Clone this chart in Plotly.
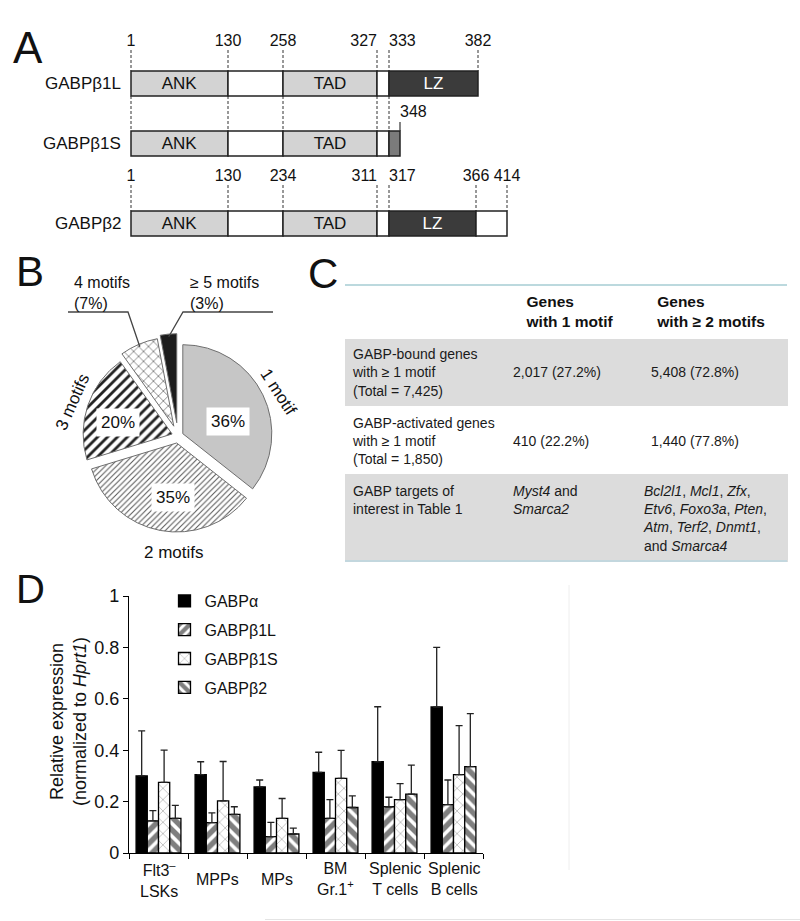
import math
import plotly.graph_objects as go

W, H = 800, 921
FONT = "Liberation Sans, Arial, Helvetica, sans-serif"


def fx(x):
    return x / W


def fy(y):
    return 1 - y / H


# ======================= DATA =======================
# Panel A: domain boundaries (amino-acid numbers) and domain names
proteins = ["GABPβ1L", "GABPβ1S", "GABPβ2"]
b1l_aa = [1, 130, 258, 327, 333, 382]
b1s_aa = [1, 130, 258, 327, 333, 348]
b2_aa = [1, 130, 234, 311, 317, 366, 414]
b1l_domains = ["ANK", "", "TAD", "", "LZ"]
b1s_domains = ["ANK", "", "TAD", "", "LZt"]
b2_domains = ["ANK", "", "TAD", "", "LZ", ""]

# Panel B: motif counts per GABP-bound gene (%)
motif_labels = ["1 motif", "2 motifs", "3 motifs", "4 motifs", "≥ 5 motifs"]
motif_pct = [36, 35, 20, 7, 3]

# Panel C: table
gene_sets = ["GABP-bound genes", "GABP-activated genes"]
set_totals = [7425, 1850]
one_motif_counts = [2017, 410]
multi_motif_counts = [5408, 1440]
targets_one = ["Myst4", "Smarca2"]
targets_multi = ["Bcl2l1", "Mcl1", "Zfx", "Etv6", "Foxo3a", "Pten",
                 "Atm", "Terf2", "Dnmt1", "Smarca4"]

# Panel D: relative expression (normalized to Hprt1)
cell_types = ["Flt3<sup>–</sup><br>LSKs", "MPPs", "MPs", "BM<br>Gr.1<sup>+</sup>",
              "Splenic<br>T cells", "Splenic<br>B cells"]
series_names = ["GABPα", "GABPβ1L", "GABPβ1S", "GABPβ2"]
gabpa_mean = [0.300, 0.305, 0.257, 0.314, 0.355, 0.568]
gabpa_sd = [0.175, 0.050, 0.027, 0.078, 0.214, 0.232]
gabpb1l_mean = [0.125, 0.118, 0.064, 0.135, 0.180, 0.188]
gabpb1l_sd = [0.040, 0.038, 0.055, 0.073, 0.037, 0.096]
gabpb1s_mean = [0.275, 0.203, 0.135, 0.290, 0.208, 0.305]
gabpb1s_sd = [0.125, 0.153, 0.077, 0.109, 0.062, 0.191]
gabpb2_mean = [0.135, 0.150, 0.074, 0.177, 0.229, 0.336]
gabpb2_sd = [0.050, 0.030, 0.023, 0.045, 0.113, 0.206]
y_ticks = [0, 0.2, 0.4, 0.6, 0.8, 1]

# ======================= LAYOUT / STYLE =======================
# schematic (not-to-scale) x positions of the boundaries in panel A
SCHEM_X = {"GABPβ1L": [131, 228, 283, 377, 389, 478],
           "GABPβ1S": [131, 228, 283, 377, 389, 400],
           "GABPβ2": [131, 228, 283, 377, 389, 476, 507]}
ROW_Y = [83.5, 143.5, 223.5]
NUM_Y = [42, 113, 177]
BAR_H = 25
DOM_COLOR = {"ANK": "#d3d3d3", "TAD": "#d3d3d3", "LZ": "#3b3b3b", "LZt": "#7b7b7b", "": "white"}
DOM_TEXT = {"ANK": "ANK", "TAD": "TAD", "LZ": "LZ", "LZt": "", "": ""}
DOM_TCOL = {"ANK": "#111", "TAD": "#111", "LZ": "white", "LZt": "white", "": "#111"}

PIE_CX, PIE_CY, PIE_R = 178, 436, 89
PULLS = [0.06, 0.08, 0.07, 0.12, 0.15]
# placement of the % boxes (angle clockwise from 12 o'clock, radius in px)
PCT_POLAR = {0: (74, 52), 1: (185, 62), 2: (283, 62)}
# outer slice names (angle, radius factor, text angle)
OUTER = {0: (66, 1.23, 57), 1: (182, 1.31, 0), 2: (288, 1.24, -66)}

fig = go.Figure()
annotations = []
shapes = []


def note(text, x, y, size, **kw):
    d = dict(text=text, xref="paper", yref="paper", x=fx(x), y=fy(y), xanchor="center",
             yanchor="middle", showarrow=False, font=dict(size=size, color="#111"))
    d.update(kw)
    annotations.append(d)


# ----------------------- Panel A -----------------------
dom_lists = [b1l_domains, b1s_domains, b2_domains]
ys, bases, widths, cols, texts, tcols = [], [], [], [], [], []
for name, doms, yc in zip(proteins, dom_lists, ROW_Y):
    xs = SCHEM_X[name]
    for i, d in enumerate(doms):
        ys.append(yc)
        bases.append(xs[i])
        widths.append(xs[i + 1] - xs[i])
        cols.append(DOM_COLOR[d])
        texts.append(DOM_TEXT[d])
        tcols.append(DOM_TCOL[d])
fig.add_trace(go.Bar(orientation="h", y=ys, x=widths, base=bases, width=BAR_H,
                     marker=dict(color=cols, line=dict(color="#222", width=1.5)),
                     text=texts, textposition="inside", insidetextanchor="middle",
                     textangle=0, constraintext="none",
                     textfont=dict(size=17, color=tcols, family=FONT),
                     xaxis="x2", yaxis="y2", showlegend=False, hoverinfo="skip"))

# dashed guide lines
dx, dy = [], []
for x in SCHEM_X["GABPβ1L"]:
    dx += [x, x, None]
    dy += [NUM_Y[0] + 8, ROW_Y[0] - BAR_H / 2, None]
for x in SCHEM_X["GABPβ1L"][:5]:
    dx += [x, x, None]
    dy += [ROW_Y[0] + BAR_H / 2, ROW_Y[1] - BAR_H / 2, None]
for x in SCHEM_X["GABPβ2"]:
    dx += [x, x, None]
    dy += [NUM_Y[2] + 8, ROW_Y[2] - BAR_H / 2, None]
fig.add_trace(go.Scatter(x=dx, y=dy, mode="lines", line=dict(color="#333", width=1, dash="3px,2px"),
                         xaxis="x2", yaxis="y2", showlegend=False, hoverinfo="skip"))
xe = SCHEM_X["GABPβ1S"][-1]
fig.add_trace(go.Scatter(x=[xe, xe], y=[NUM_Y[1] + 9, ROW_Y[1] - BAR_H / 2], mode="lines",
                         line=dict(color="#333", width=1.2),
                         xaxis="x2", yaxis="y2", showlegend=False, hoverinfo="skip"))

# boundary numbers
num_pos_b1 = ["middle center"] * 3 + ["middle left", "middle right", "middle center"]
num_pos_b2 = ["middle center"] * 3 + ["middle left", "middle right", "middle center", "middle center"]
for xs, aa, yv, pos in [(SCHEM_X["GABPβ1L"], b1l_aa, NUM_Y[0], num_pos_b1),
                        (SCHEM_X["GABPβ1S"][-1:], b1s_aa[-1:], NUM_Y[1], ["middle right"]),
                        (SCHEM_X["GABPβ2"], b2_aa, NUM_Y[2], num_pos_b2)]:
    fig.add_trace(go.Scatter(x=xs, y=[yv] * len(xs), mode="text", text=[str(a) for a in aa],
                             textposition=pos, textfont=dict(size=16, color="#111", family=FONT),
                             xaxis="x2", yaxis="y2", showlegend=False, hoverinfo="skip"))

for name, yc in zip(proteins, ROW_Y):
    annotations.append(dict(text=name, xref="x2", yref="y2", x=123, y=yc, xanchor="right",
                            yanchor="middle", showarrow=False, font=dict(size=17, color="#111")))

# ----------------------- Panel B -----------------------
half = PIE_R * (1 + max(PULLS))
fig.add_trace(go.Pie(labels=motif_labels, values=motif_pct, sort=False, direction="clockwise",
                     rotation=0, pull=PULLS, textinfo="none", showlegend=False,
                     domain=dict(x=[fx(PIE_CX - half), fx(PIE_CX + half)],
                                 y=[fy(PIE_CY + half), fy(PIE_CY - half)]),
                     marker=dict(colors=["#c6c6c6", "white", "white", "white", "#1c1c1c"],
                                 line=dict(color="#6e6e6e", width=1),
                                 pattern=dict(shape=["", "/", "/", "x", ""],
                                              fgcolor=["#c6c6c6", "#555555", "#222222", "#555555", "#1c1c1c"],
                                              bgcolor=["#c6c6c6", "white", "white", "white", "#1c1c1c"],
                                              size=[6, 4, 7, 7, 6],
                                              solidity=[0.3, 0.25, 0.4, 0.18, 0.3],
                                              fillmode="replace")),
                     hoverinfo="label+percent"))

tot = sum(motif_pct)
mids, cum = [], 0
for v in motif_pct:
    mids.append((cum + v / 2) / tot * 360)
    cum += v


def polar(theta, r, pull=0.0):
    t = math.radians(theta)
    rr = r + pull * PIE_R
    return PIE_CX + rr * math.sin(t), PIE_CY - rr * math.cos(t)


for i, (ang, r) in PCT_POLAR.items():
    px_, py_ = polar(ang, r)
    note(f"{motif_pct[i]}%", px_, py_, 17, bgcolor="white", borderpad=4)

for i, (ang, rf, ta) in OUTER.items():
    px_, py_ = polar(ang, rf * PIE_R)
    note(motif_labels[i], px_, py_, 17, textangle=ta)

# callouts for the small slices
CALLOUT = {3: dict(elbow=(128, 312), end=(68, 312), text_x=72),
           4: dict(elbow=(183, 312), end=(273, 312), text_x=188)}
for i, c in CALLOUT.items():
    tx, ty = polar(mids[i], PIE_R * 0.97, PULLS[i])
    ex, ey = c["elbow"]
    nx, ny = c["end"]
    shapes.append(dict(type="path", xref="paper", yref="paper",
                       path=f"M {fx(nx)} {fy(ny)} L {fx(ex)} {fy(ey)} L {fx(tx)} {fy(ty)}",
                       line=dict(color="#444", width=1.3)))
    note(f"{motif_labels[i]}<br>({motif_pct[i]}%)", c["text_x"], 293, 16, xanchor="left", align="left")

# ----------------------- Panel C -----------------------
def fmt_count(n, total):
    return f"{n:,} ({n / total * 100:.1f}%)"


NBSP = "\u00a0"
col1 = [f"{s}<br>with ≥ 1 motif<br>(Total = {t:,})" for s, t in zip(gene_sets, set_totals)]
col1.append("GABP targets of<br>interest in Table 1")
col2 = [NBSP + "<br>" + fmt_count(n, t) for n, t in zip(one_motif_counts, set_totals)]
col2.append(" and<br>".join(f"<i>{g}</i>" for g in targets_one))
col3 = [NBSP + "<br>\u2002" + fmt_count(n, t) for n, t in zip(multi_motif_counts, set_totals)]
parts = [f"<i>{g}</i>" for g in targets_multi[:-1]]
lines = [", ".join(parts[k:k + 3]) + "," for k in range(0, len(parts), 3)]
lines.append(f"and <i>{targets_multi[-1]}</i>")
col3.append("<br>".join(lines))

GRAY = "#dcdcdc"
row_fill = [GRAY, "white", GRAY]
fig.add_trace(go.Table(
    domain=dict(x=[fx(345), fx(787)], y=[fy(585), fy(285)]),
    columnwidth=[160, 131, 151],
    header=dict(values=["", "<b>Genes<br>with 1 motif</b>", "<b>Genes<br>with ≥ 2 motifs</b>"],
                fill_color="white", line=dict(color="white", width=1),
                align=["left", "center", "center"], height=40,
                font=dict(size=15.5, color="#111", family=FONT)),
    cells=dict(values=[col1, col2, col3],
               fill_color=[row_fill] * 3, line=dict(color=[row_fill] * 3, width=1),
               align=["left", "left", "left"],
               height=20, font=dict(size=14, color="#1a1a1a", family=FONT))))
shapes.append(dict(type="line", xref="paper", yref="paper", x0=fx(345), x1=fx(787), y0=fy(285), y1=fy(285),
                   line=dict(color="#a6ccd3", width=1.5)))
shapes.append(dict(type="line", xref="paper", yref="paper", x0=fx(345), x1=fx(787), y0=fy(561), y1=fy(561),
                   line=dict(color="#c3d7de", width=2)))

# ----------------------- Panel D -----------------------
bar_styles = [
    dict(color="black", pattern=dict(shape="")),
    dict(color="white", pattern=dict(shape="/", fgcolor="black", bgcolor="white", size=9, solidity=0.6)),
    dict(color="white", pattern=dict(shape="x", fgcolor="#444", bgcolor="white", size=8, solidity=0.15)),
    dict(color="white", pattern=dict(shape="\\", fgcolor="black", bgcolor="white", size=9, solidity=0.6)),
]
for name, mean, sd, st in zip(series_names,
                              [gabpa_mean, gabpb1l_mean, gabpb1s_mean, gabpb2_mean],
                              [gabpa_sd, gabpb1l_sd, gabpb1s_sd, gabpb2_sd], bar_styles):
    fig.add_trace(go.Bar(name=name, x=cell_types, y=mean, legendgroup=name,
                         marker=dict(color=st["color"], pattern=st["pattern"],
                                     line=dict(color="black", width=1.3)),
                         error_y=dict(type="data", array=sd, arrayminus=[0] * len(sd), symmetric=False,
                                      color="#222", thickness=1.3, width=3.5)))

for ct in cell_types:
    annotations.append(dict(text=ct, xref="x", yref="paper", x=ct, y=fy(879), yanchor="middle",
                            xanchor="center", showarrow=False, font=dict(size=16, color="#111")))
note("Relative expression<br>(normalized to <i>Hprt1</i>)", 68, 722, 18, textangle=-90)

# panel letters
for letter, (lx, ly, sz) in {"A": (28, 47, 44), "B": (30, 271, 42), "C": (323, 273, 42),
                             "D": (30, 589, 40)}.items():
    note(letter, lx, ly, sz)

# faint frame artefacts of the original figure
shapes.append(dict(type="line", xref="paper", yref="paper", x0=fx(569), x1=fx(569), y0=fy(585), y1=fy(870),
                   line=dict(color="#eeeeee", width=1)))
shapes.append(dict(type="line", xref="paper", yref="paper", x0=fx(265), x1=fx(800), y0=fy(919.5), y1=fy(919.5),
                   line=dict(color="#e4e4e4", width=1)))

fig.update_layout(
    width=W, height=H, margin=dict(l=0, r=0, t=0, b=0, pad=0, autoexpand=False),
    paper_bgcolor="white", plot_bgcolor="white",
    font=dict(family=FONT, color="#111"),
    barmode="group", bargap=0.24, bargroupgap=0,
    showlegend=True,
    legend=dict(x=fx(164.5), y=fy(584), xanchor="left", yanchor="top", bgcolor="rgba(0,0,0,0)",
                font=dict(size=16, color="#111"), tracegroupgap=5, itemclick=False),
    xaxis=dict(domain=[fx(129), fx(483)], range=[-0.5, 5.5], anchor="y", showline=True, linecolor="black",
               linewidth=1.3, ticks="outside", tickson="boundaries", ticklen=5, tickwidth=1.3,
               tickcolor="black", showticklabels=False, showgrid=False, zeroline=False),
    yaxis=dict(domain=[fy(853), fy(596)], range=[0, 1], anchor="x", showline=True, linecolor="black",
               linewidth=1.3, ticks="outside", ticklen=5, tickwidth=1.3, tickcolor="black",
               tickvals=y_ticks, ticktext=[f"{t:g}" for t in y_ticks], tickfont=dict(size=18, color="#111"),
               showgrid=False, zeroline=False),
    xaxis2=dict(domain=[0, 1], range=[0, W], anchor="y2", visible=False, fixedrange=True),
    yaxis2=dict(domain=[fy(250), 1], range=[250, 0], anchor="x2", visible=False, fixedrange=True),
    annotations=annotations, shapes=shapes,
)

fig.write_html("out.html", config={"displayModeBar": False},
               post_script="document.body.style.margin='0';")
